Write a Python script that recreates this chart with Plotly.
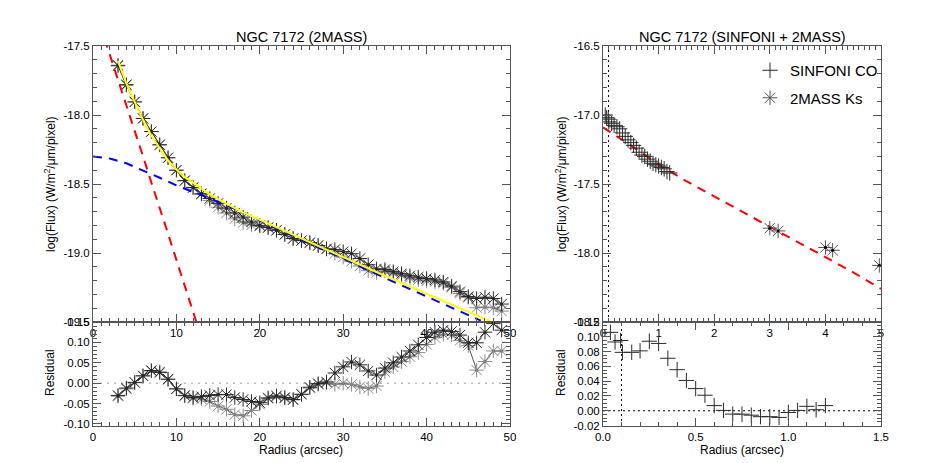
import plotly.graph_objects as go

# ---- left panel: 2MASS profile (two position-angle cuts) ----
radius = list(range(3, 50))

flux_a = [-17.645, -17.785, -17.905, -18.025, -18.12, -18.218, -18.31, -18.40, -18.477, -18.528,
          -18.575, -18.62, -18.668, -18.71, -18.752, -18.78, -18.797, -18.805, -18.817, -18.837,
          -18.867, -18.896, -18.911, -18.927, -18.947, -18.972, -19.003, -19.03, -19.06, -19.094,
          -19.128, -19.142, -19.129, -19.145, -19.161, -19.179, -19.194, -19.202, -19.208, -19.22,
          -19.249, -19.293, -19.322, -19.397, -19.392, -19.397, -19.421]
flux_b = [-17.64, -17.78, -17.905, -18.025, -18.12, -18.215, -18.31, -18.40, -18.475, -18.525,
          -18.57, -18.605, -18.64, -18.675, -18.71, -18.74, -18.775, -18.80, -18.815, -18.835,
          -18.865, -18.895, -18.91, -18.925, -18.945, -18.97, -18.975, -18.99, -19.005, -19.04,
          -19.085, -19.115, -19.12, -19.135, -19.15, -19.165, -19.175, -19.185, -19.195, -19.21,
          -19.24, -19.28, -19.315, -19.33, -19.32, -19.33, -19.37]

resid_a = [-0.032, -0.014, 0.001, 0.018, 0.030, 0.028, 0.009, -0.014, -0.031, -0.037,
           -0.039, -0.045, -0.056, -0.064, -0.077, -0.080, -0.067, -0.052, -0.038, -0.033,
           -0.037, -0.041, -0.028, -0.012, -0.003, 0.001, -0.003, 0.0, -0.003, -0.009,
           -0.013, -0.007, 0.028, 0.040, 0.053, 0.065, 0.075, 0.095, 0.112, 0.120,
           0.118, 0.105, 0.092, 0.032, 0.053, 0.079, 0.079]
resid_b = [-0.030, -0.012, 0.002, 0.018, 0.031, 0.026, 0.010, -0.014, -0.030, -0.035,
           -0.033, -0.030, -0.028, -0.028, -0.035, -0.040, -0.045, -0.048, -0.036, -0.031,
           -0.035, -0.040, -0.027, -0.010, -0.001, 0.003, 0.025, 0.040, 0.052, 0.045,
           0.030, 0.020, 0.037, 0.050, 0.064, 0.079, 0.094, 0.112, 0.125, 0.130,
           0.127, 0.118, 0.099, 0.099, 0.125, 0.146, 0.130]

# model components
bulge_r = [1.4, 2, 3, 4, 5, 6, 7, 8, 9, 10, 11, 12, 12.5]
bulge_f = [-17.45, -17.56, -17.74, -17.92, -18.11, -18.30, -18.49, -18.67, -18.86, -19.05, -19.24, -19.43, -19.52]
disk_r = [0, 2, 4, 6, 8, 10, 12, 14, 16, 18, 20, 25, 30, 35, 40, 45, 46.5]
disk_f = [-18.30, -18.315, -18.35, -18.40, -18.455, -18.51, -18.555, -18.605, -18.655, -18.705,
          -18.765, -18.905, -19.045, -19.18, -19.315, -19.45, -19.49]
total_r = [3, 4, 5, 6, 7, 8, 9, 10, 11, 12, 13, 14, 15, 16, 17, 18, 20, 25, 30, 35, 40, 45, 48.2]
total_f = [-17.61, -17.77, -17.905, -18.035, -18.15, -18.245, -18.33, -18.395, -18.45, -18.49,
           -18.535, -18.575, -18.61, -18.645, -18.675, -18.705, -18.76, -18.895, -19.03, -19.165,
           -19.295, -19.425, -19.51]

# ---- right panel: SINFONI CO + 2MASS ----
sinf_r = [0.04, 0.065, 0.095, 0.105, 0.155, 0.2, 0.25, 0.3, 0.35, 0.4, 0.45, 0.5, 0.55,
          0.6, 0.65, 0.7, 0.75, 0.8, 0.85, 0.9, 0.95, 1.0, 1.05, 1.1, 1.15, 1.2]
sinf_f = [-17.00, -17.02, -17.03, -17.05, -17.06, -17.075, -17.085, -17.10, -17.13, -17.155,
          -17.18, -17.20, -17.22, -17.24, -17.27, -17.29, -17.30, -17.32, -17.335, -17.35,
          -17.36, -17.37, -17.38, -17.39, -17.41, -17.42]
sinf_res = [0.106, 0.093, 0.095, 0.079, 0.079, 0.081, 0.094, 0.091, 0.071, 0.0555,
            0.041, 0.030, 0.021, 0.007, 0.0005, -0.0045, -0.0046, -0.006, -0.008, -0.008,
            -0.009, -0.0023, 0.0005, 0.006, 0.0014, 0.007]
tm_r = [3.0, 3.15, 4.0, 4.13, 4.97]
tm_f = [-17.82, -17.84, -17.96, -17.98, -18.09]
fit_r = [0, 0.5, 1.0, 1.5, 2.0, 2.5, 3.0, 3.5, 4.0, 4.5, 5.0]
fit_f = [-17.09, -17.22, -17.36, -17.48, -17.59, -17.70, -17.81, -17.92, -18.03, -18.14, -18.26]

W, H = 926, 463
OFF = 8  # page body margin


def px(x):
    return (x - OFF) / W


def py(y):
    return 1 - (y - OFF) / H


xl = [px(93), px(510)]
xr = [px(603), px(881)]
ytop = [py(322), py(46)]
ybot = [py(426), py(322)]

DARK = "#2a2a2a"
GREY = "#8c8c8c"
AXC = "#555555"

fig = go.Figure()


def star_series(fig, x, y, color, xa, ya):
    fig.add_trace(go.Scatter(x=x, y=y, mode="lines+markers", xaxis=xa, yaxis=ya,
                             line=dict(color=DARK, width=0.8),
                             marker=dict(symbol="circle", size=3, color="black"),
                             showlegend=False, hoverinfo="skip"))
    fig.add_trace(go.Scatter(x=x, y=y, mode="markers", xaxis=xa, yaxis=ya,
                             marker=dict(symbol="asterisk-open", size=12, color=color,
                                         line=dict(color=color, width=1)),
                             showlegend=False))


# left top
star_series(fig, radius, flux_a, GREY, "x", "y")
star_series(fig, radius, flux_b, DARK, "x", "y")
fig.add_trace(go.Scatter(x=bulge_r, y=bulge_f, mode="lines", xaxis="x", yaxis="y",
                         line=dict(color="#ff0000", width=2, dash="9px,7px"), showlegend=False))
fig.add_trace(go.Scatter(x=disk_r, y=disk_f, mode="lines", xaxis="x", yaxis="y",
                         line=dict(color="#0000ff", width=2, dash="9px,7px"), showlegend=False))
fig.add_trace(go.Scatter(x=total_r, y=total_f, mode="lines", xaxis="x", yaxis="y",
                         line=dict(color="#ffff00", width=2), showlegend=False))

# left residual
fig.add_trace(go.Scatter(x=[0, 50], y=[0, 0], mode="lines", xaxis="x2", yaxis="y2",
                         line=dict(color="#999999", width=1, dash="2px,5px"), showlegend=False))
star_series(fig, radius, resid_a, GREY, "x2", "y2")
star_series(fig, radius, resid_b, DARK, "x2", "y2")

# right top
fig.add_trace(go.Scatter(x=[0.1, 0.1], y=[-18.5, -16.5], mode="lines", xaxis="x3", yaxis="y3",
                         line=dict(color="black", width=1, dash="2px,3px"), showlegend=False))
fig.add_trace(go.Scatter(x=fit_r, y=fit_f, mode="lines", xaxis="x3", yaxis="y3",
                         line=dict(color="#ff0000", width=2, dash="9px,7px"), showlegend=False))
fig.add_trace(go.Scatter(x=sinf_r, y=sinf_f, mode="markers", xaxis="x3", yaxis="y3",
                         name="SINFONI CO", legendgroup="a",
                         marker=dict(symbol="cross-thin-open", size=11, color=DARK,
                                     line=dict(color=DARK, width=1))))
fig.add_trace(go.Scatter(x=tm_r, y=tm_f, mode="markers", xaxis="x3", yaxis="y3",
                         name="2MASS Ks", legendgroup="b",
                         marker=dict(symbol="asterisk-open", size=12, color="#555555",
                                     line=dict(color="#555555", width=1))))
fig.add_trace(go.Scatter(x=tm_r, y=tm_f, mode="markers", xaxis="x3", yaxis="y3",
                         marker=dict(symbol="circle", size=3, color="black"), showlegend=False))

# right residual
fig.add_trace(go.Scatter(x=[0, 1.5], y=[0, 0], mode="lines", xaxis="x4", yaxis="y4",
                         line=dict(color="black", width=1, dash="2px,3px"), showlegend=False))
fig.add_trace(go.Scatter(x=[0.1, 0.1], y=[-0.0206, 0.12], mode="lines", xaxis="x4", yaxis="y4",
                         line=dict(color="black", width=1, dash="2px,3px"), showlegend=False))
fig.add_trace(go.Scatter(x=sinf_r, y=sinf_res, mode="markers", xaxis="x4", yaxis="y4",
                         marker=dict(symbol="cross-thin-open", size=11, color=DARK,
                                     line=dict(color=DARK, width=1)),
                         showlegend=False))

axis_common = dict(showline=True, linecolor=AXC, linewidth=1, mirror="ticks",
                   ticks="inside", ticklen=8, tickcolor=AXC, showgrid=False,
                   zeroline=False, tickfont=dict(size=11.5, color="black"), automargin=False)


def ax(domain, rng, vals, texts, minor, anchor):
    d = dict(axis_common)
    d.update(domain=domain, range=rng, tickvals=vals, ticktext=texts, anchor=anchor,
             minor=dict(dtick=minor, ticks="inside", ticklen=4, tickcolor=AXC))
    return d


fig.update_layout(
    width=W, height=H,
    margin=dict(l=0, r=0, t=0, b=0),
    paper_bgcolor="white", plot_bgcolor="white",
    font=dict(family="Liberation Sans, Arial, sans-serif", color="black"),
    xaxis=ax(xl, [0, 50], [0, 10, 20, 30, 40, 50], ["0", "10", "20", "30", "40", "50"], 1, "y"),
    yaxis=ax(ytop, [-19.5, -17.5], [-19.5, -19.0, -18.5, -18.0, -17.5],
             ["-19.5", "-19.0", "-18.5", "-18.0", "-17.5"], 0.1, "x"),
    xaxis2=ax(xl, [0, 50], [0, 10, 20, 30, 40, 50], ["0", "10", "20", "30", "40", "50"], 1, "y2"),
    yaxis2=ax(ybot, [-0.105, 0.15], [-0.10, -0.05, 0.0, 0.05, 0.10, 0.15],
              ["-0.10", "-0.05", "0.00", "0.05", "0.10", "0.15"], 0.01, "x2"),
    xaxis3=ax(xr, [0, 5], [0, 1, 2, 3, 4, 5], ["0", "1", "2", "3", "4", "5"], 0.1, "y3"),
    yaxis3=ax(ytop, [-18.5, -16.5], [-18.5, -18.0, -17.5, -17.0, -16.5],
              ["-18.5", "-18.0", "-17.5", "-17.0", "-16.5"], 0.1, "x3"),
    xaxis4=ax(xr, [0, 1.5], [0, 0.5, 1.0, 1.5], ["0.0", "0.5", "1.0", "1.5"], 0.1, "y4"),
    yaxis4=ax(ybot, [-0.0206, 0.12], [-0.02, 0.0, 0.02, 0.04, 0.06, 0.08, 0.10, 0.12],
              ["-0.02", "0.00", "0.02", "0.04", "0.06", "0.08", "0.10", "0.12"], 0.005, "x4"),
    legend=dict(x=px(750), y=py(54), xanchor="left", yanchor="top",
                font=dict(size=15, color="black"), bgcolor="rgba(0,0,0,0)",
                tracegroupgap=5, itemwidth=30),
    showlegend=True,
)

ann = [
    dict(text="NGC 7172 (2MASS)", x=301, y=37, size=14.5, angle=0),
    dict(text="NGC 7172 (SINFONI + 2MASS)", x=742, y=37, size=14.5, angle=0),
    dict(text="log(Flux) (W/m<sup>2</sup>/μm/pixel)", x=50, y=184, size=12, angle=-90),
    dict(text="log(Flux) (W/m<sup>2</sup>/μm/pixel)", x=561, y=184, size=12, angle=-90),
    dict(text="Residual", x=50, y=373, size=12, angle=-90),
    dict(text="Residual", x=561, y=373, size=12, angle=-90),
    dict(text="Radius (arcsec)", x=301, y=450, size=12, angle=0),
    dict(text="Radius (arcsec)", x=742, y=450, size=12, angle=0),
]
for a in ann:
    fig.add_annotation(text=a["text"], x=px(a["x"]), y=py(a["y"]), xref="paper", yref="paper",
                       showarrow=False, textangle=a["angle"], xanchor="center", yanchor="middle",
                       font=dict(size=a["size"], color="black"))

fig.write_html("out.html")
